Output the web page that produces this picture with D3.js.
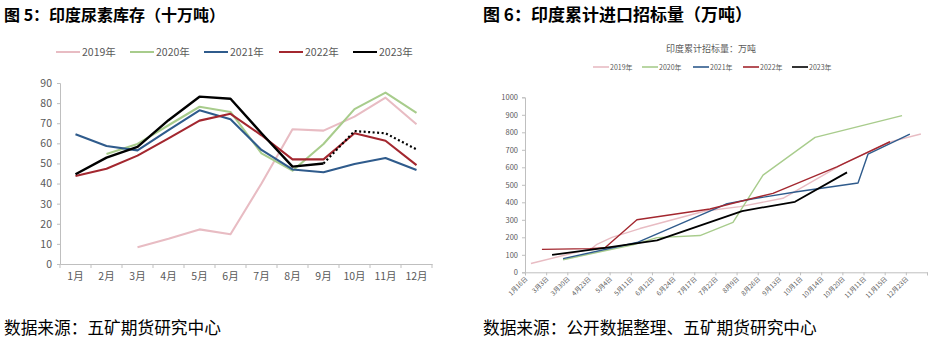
<!DOCTYPE html>
<html><head><meta charset="utf-8">
<script src="https://cdn.jsdelivr.net/npm/d3@7"></script>
<style>
html,body{margin:0;padding:0;background:#fff;}
svg{display:block;font-family:"Noto Sans CJK SC","Noto Sans",sans-serif;}
</style></head>
<body><svg id="c" width="936" height="341"></svg>
<script>
// ---------- Left chart: 印度尿素库存（十万吨）
const months = ["1月","2月","3月","4月","5月","6月","7月","8月","9月","10月","11月","12月"];
const inv2019 = [null,null,8.3,12.5,17.2,14.8,40,67,66.3,73.3,82.7,69.5];
const inv2020 = [null,54.7,59.7,69,78.2,75.6,55,46.4,59.7,77,85.2,75.2];
const inv2021 = [64.5,58.7,56.5,66.6,76.4,72,56.7,47,45.6,49.7,52.7,46.7];
const inv2022 = [43.8,47.4,53.9,62.5,71.3,74.7,64,52,52,65,61.3,49.2];
const inv2023 = [44.6,52.9,58.2,71.5,83.2,82.2,65,48.4,50,null,null,null];
const inv2023Est = [null,null,null,null,null,null,null,null,50,66.1,65,57];
const invTicks = [0,10,20,30,40,50,60,70,80,90];

// ---------- Right chart: 印度累计进口招标量（万吨）
const dateLabels = ["1月16日","3月3日","3月30日","4月23日","5月4日","5月11日","6月12日","6月24日","7月17日","7月22日","8月9日","8月26日","9月13日","10月1日","10月14日","10月20日","11月11日","11月15日","12月23日"];
const tenderTicks = [0,100,200,300,400,500,600,700,800,900,1000];
// positions in category units along the date axis, and cumulative tender volumes
const t2019Pos = [0.28,3.17,3.40,4.11,5.43,8.51,10.16,12.19,15.03,17.25,18.71];
const t2019 = [50,137,160,200,250,350,375,423,620,745,790];
const t2020Pos = [1.80,5.10,6.24,8.27,9.83,11.25,13.71,17.82];
const t2020 = [72,157,198,210,285,555,771,895];
const t2021Pos = [1.80,5.29,9.50,10.78,12.85,15.74,16.21,18.19];
const t2021 = [78,170,390,420,460,510,675,790];
const t2022Pos = [0.80,3.07,3.78,5.29,8.74,11.72,14.74,17.25];
const t2022 = [131,135,140,300,362,451,603,746];
const t2023Pos = [1.28,3.78,6.24,10.26,12.76,15.22];
const t2023 = [100,140,182,350,403,571];

const years = ["2019年","2020年","2021年","2022年","2023年"];
const colors = ["#e8bcc3","#a8cc8c","#2f5b8c","#a3272f","#000000"];

const svg = d3.select("#c");
const axisCol = "#bfbfbf", textCol = "#595959";

// titles & footers
svg.append("text").attr("x",4).attr("y",21).attr("font-size",16).attr("font-weight","bold").attr("fill","#000").text("图 5：印度尿素库存（十万吨）");
svg.append("text").attr("x",483).attr("y",21).attr("font-size",17).attr("font-weight","bold").attr("fill","#000").text("图 6：印度累计进口招标量（万吨）");
svg.append("text").attr("x",4).attr("y",334).attr("font-size",16.7).attr("fill","#000").text("数据来源：五矿期货研究中心");
svg.append("text").attr("x",483).attr("y",334).attr("font-size",16.7).attr("fill","#000").text("数据来源：公开数据整理、五矿期货研究中心");

// ===== Left chart
const xL = d3.scaleBand().domain(months).range([60,432]);
const yL = d3.scaleLinear().domain([0,90]).range([264,83]);
const gL = svg.append("g");
const yAxL = gL.append("g").attr("transform","translate(60,0)").call(d3.axisLeft(yL).tickValues(invTicks).tickSize(3).tickPadding(5));
yAxL.selectAll("path,line").attr("stroke",axisCol);
yAxL.selectAll("text").attr("font-size",10.5).attr("fill",textCol).attr("font-family","Noto Sans CJK SC, sans-serif");
const xAxL = gL.append("g").attr("transform","translate(0,264)").call(d3.axisBottom(xL).tickSize(0).tickPadding(9));
xAxL.select("path").attr("stroke",axisCol);
xAxL.selectAll("text").attr("font-size",10.5).attr("fill",textCol).attr("font-family","Noto Sans CJK SC, sans-serif");
gL.selectAll(".bt").data(d3.range(months.length+1)).enter().append("line")
  .attr("x1",i=>xL.range()[0]+i*xL.step()).attr("x2",i=>xL.range()[0]+i*xL.step())
  .attr("y1",264).attr("y2",268).attr("stroke",axisCol);

const lineL = d3.line().defined(d=>d!=null).x((d,i)=>xL(months[i])+xL.bandwidth()/2).y(d=>yL(d));
[inv2019,inv2020,inv2021,inv2022,inv2023].forEach((s,k)=>{
  gL.append("path").datum(s).attr("d",lineL).attr("fill","none").attr("stroke",colors[k])
    .attr("stroke-width",k==4?2.4:2.1).attr("stroke-linejoin","round");
});
gL.append("path").datum(inv2023Est).attr("d",lineL).attr("fill","none").attr("stroke","#000")
  .attr("stroke-width",2.2).attr("stroke-dasharray","2,2.5");

const legL = [56,130,204,279,353];
years.forEach((y,k)=>{
  svg.append("line").attr("x1",legL[k]).attr("x2",legL[k]+24).attr("y1",52).attr("y2",52).attr("stroke",colors[k]).attr("stroke-width",2);
  svg.append("text").attr("x",legL[k]+26).attr("y",56).attr("font-size",10.5).attr("fill",textCol).text(y);
});

// ===== Right chart
const xR = d3.scaleLinear().domain([0,19]).range([525,927]);
const yR = d3.scaleLinear().domain([0,1000]).range([272.3,97.3]);
const gR = svg.append("g");
const yAxR = gR.append("g").attr("transform","translate(525,0)").call(d3.axisLeft(yR).tickValues(tenderTicks).tickFormat(d3.format("d")).tickSize(3).tickPadding(4));
yAxR.selectAll("path,line").attr("stroke",axisCol);
yAxR.selectAll("text").attr("font-size",7.5).attr("fill",textCol).attr("font-family","Noto Sans CJK SC, sans-serif");
const xAxR = gR.append("g").attr("transform","translate(0,272.3)").call(d3.axisBottom(xR).tickValues(d3.range(20)).tickSize(3).tickFormat(""));
xAxR.selectAll("path,line").attr("stroke",axisCol);
gR.selectAll(".dl").data(dateLabels).enter().append("text")
  .attr("transform",(d,i)=>`translate(${xR(i)+3},${272.3+7}) rotate(-45)`)
  .attr("text-anchor","end").attr("font-size",6.5).attr("fill",textCol).text(d=>d);

const seriesR = [[t2019Pos,t2019],[t2020Pos,t2020],[t2021Pos,t2021],[t2022Pos,t2022],[t2023Pos,t2023]];
const lineR = d3.line().x(d=>xR(d[0])).y(d=>yR(d[1]));
seriesR.forEach(([p,v],k)=>{
  gR.append("path").datum(p.map((x,i)=>[x,v[i]])).attr("d",lineR).attr("fill","none")
    .attr("stroke",colors[k]).attr("stroke-width",k==4?1.8:1.4).attr("stroke-linejoin","round");
});

svg.append("text").attr("x",711).attr("y",52).attr("text-anchor","middle").attr("font-size",9).attr("fill",textCol).text("印度累计招标量：万吨");
const legR = [593,642,693,743,792];
years.forEach((y,k)=>{
  svg.append("line").attr("x1",legR[k]).attr("x2",legR[k]+16).attr("y1",67).attr("y2",67).attr("stroke",colors[k]).attr("stroke-width",1.6);
  svg.append("text").attr("x",legR[k]+17).attr("y",69.5).attr("font-size",7).attr("fill",textCol).text(y);
});
</script></body></html>
